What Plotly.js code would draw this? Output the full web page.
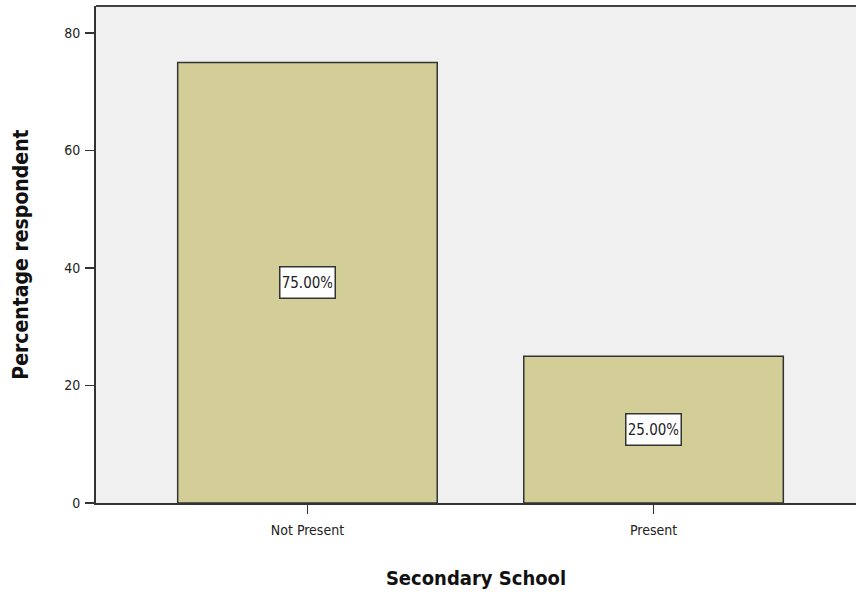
<!DOCTYPE html>
<html>
<head>
<meta charset="utf-8">
<script src="https://cdn.plot.ly/plotly-3.0.1.min.js"></script>
<style>html,body{margin:0;padding:0;background:#fff;}#chart{width:856px;height:592px;}</style>
</head>
<body>
<div id="chart"></div>
<script>
const categories = ["Not Present", "Present"];
const percentages = [75.0, 25.0];
const yTicks = [0, 20, 40, 60, 80];

const fontFam = "'DejaVu Sans Condensed', 'Liberation Sans Narrow', sans-serif";

const trace = {
  type: "bar",
  x: categories,
  y: percentages,
  width: 0.75,
  marker: { color: "#d3ce98", line: { color: "#333333", width: 1.5 } },
  hoverinfo: "skip"
};

const annotations = categories.map((c, i) => ({
  x: c, y: percentages[i] / 2, xref: "x", yref: "y",
  text: percentages[i].toFixed(2) + "%",
  showarrow: false,
  width: 50, height: 26,
  bgcolor: "#ffffff", bordercolor: "#333333", borderwidth: 1.5, borderpad: 2,
  font: { family: fontFam, size: 15, color: "#222" }
}));

const layout = {
  width: 856, height: 592,
  margin: { l: 96, r: 0, t: 6, b: 89 },
  paper_bgcolor: "#ffffff",
  plot_bgcolor: "#f0f0f0",
  showlegend: false,
  font: { family: fontFam, color: "#222" },
  xaxis: {
    type: "category",
    range: [-0.611, 1.585],
    showgrid: false, zeroline: false,
    showline: true, linecolor: "#333", linewidth: 2,
    ticks: "outside", ticklen: 9, tickwidth: 1.5, tickcolor: "#333",
    ticklabelstandoff: 4,
    tickfont: { family: fontFam, size: 14, color: "#222" },
    title: { text: "Secondary School", font: { family: fontFam, size: 20, color: "#111", weight: "bold" }, standoff: 34 }
  },
  yaxis: {
    range: [0, 84.6],
    tickvals: yTicks,
    showgrid: false, zeroline: false,
    showline: true, linecolor: "#333", linewidth: 2,
    ticks: "outside", ticklen: 9, tickwidth: 1.5, tickcolor: "#333",
    ticklabelstandoff: 2,
    tickfont: { family: fontFam, size: 14, color: "#222" },
    title: { text: "Percentage respondent", font: { family: fontFam, size: 21, color: "#111", weight: "bold" }, standoff: 30 }
  },
  shapes: [
    { type: "line", xref: "paper", yref: "paper", x0: 0, x1: 1, y0: 1, y1: 1, line: { color: "#444", width: 2 } }
  ],
  annotations: annotations
};

Plotly.newPlot("chart", [trace], layout, { staticPlot: true, displayModeBar: false });
</script>
</body>
</html>
